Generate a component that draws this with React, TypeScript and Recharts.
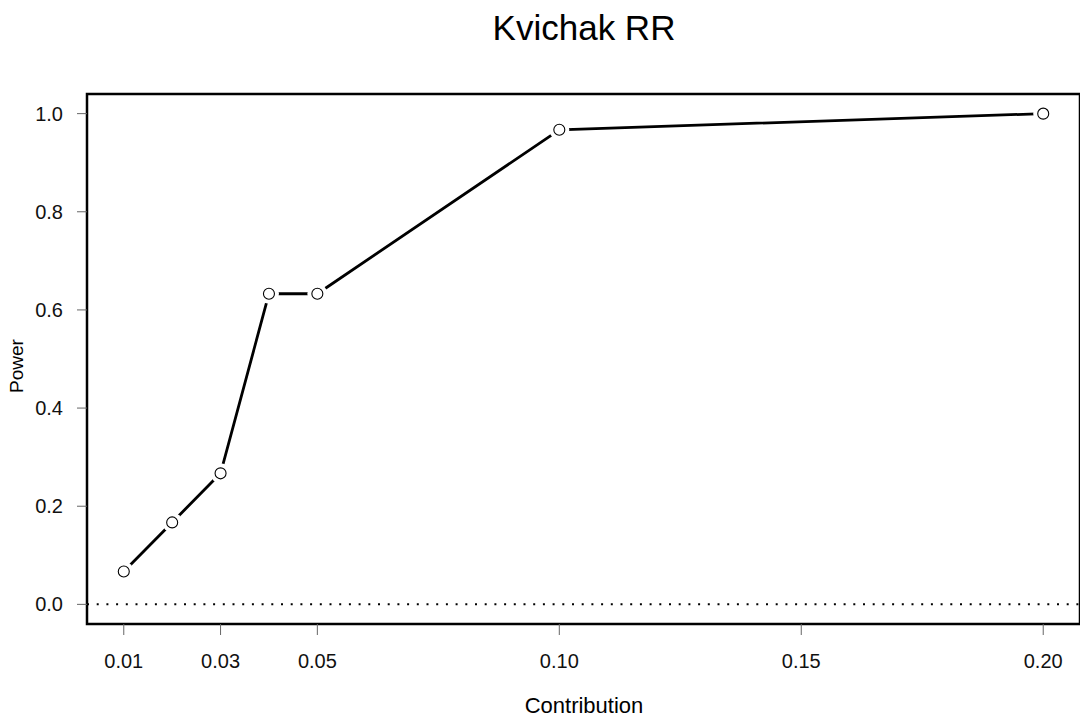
import React from 'react';
import { LineChart, Line, XAxis, YAxis, ReferenceLine, ReferenceArea } from 'recharts';

const contribution = [0.01, 0.02, 0.03, 0.04, 0.05, 0.1, 0.2];
const power = [0.067, 0.167, 0.267, 0.633, 0.633, 0.967, 1.0];
const xTicks = [0.01, 0.03, 0.05, 0.1, 0.15, 0.2];
const yTicks = [0, 0.2, 0.4, 0.6, 0.8, 1.0];

const xDomain: [number, number] = [0.0024, 0.2076];
const yDomain: [number, number] = [-0.04, 1.04];

const font = '"Liberation Sans", Arial, sans-serif';

const data = contribution.map((c, i) => ({ contribution: c, power: power[i] }));

// open circle with a white halo so the line stops short of each point
const OpenDot = (props: any) => {
  const { cx, cy, index } = props;
  if (cx == null || cy == null) return null;
  return (
    <g key={`dot-${index}`}>
      <circle cx={cx} cy={cy} r={10} fill="#fff" stroke="none" />
      <circle cx={cx} cy={cy} r={5.5} fill="#fff" stroke="#000" strokeWidth={1.1} />
    </g>
  );
};

export default function App() {
  return (
    <div
      style={{
        position: 'absolute',
        left: 0,
        top: 0,
        width: 1080,
        height: 719,
        overflow: 'hidden',
        background: '#fff',
        fontFamily: font,
      }}
    >
      <LineChart
        width={1100}
        height={719}
        data={data}
        margin={{ top: 94, right: 20, bottom: 35, left: 0 }}
      >
        <XAxis
          dataKey="contribution"
          type="number"
          domain={xDomain}
          allowDataOverflow
          ticks={xTicks}
          tickFormatter={(v: number) => v.toFixed(2)}
          axisLine={false}
          tickSize={11}
          tickMargin={19}
          tickLine={{ stroke: '#666', strokeWidth: 1 }}
          tick={{ fill: '#111', fontSize: 20, fontFamily: font }}
          height={60}
          interval={0}
        />
        <YAxis
          type="number"
          domain={yDomain}
          allowDataOverflow
          ticks={yTicks}
          tickFormatter={(v: number) => v.toFixed(1)}
          axisLine={false}
          tickSize={10}
          tickMargin={14}
          tickLine={{ stroke: '#666', strokeWidth: 1 }}
          tick={{ fill: '#111', fontSize: 20, fontFamily: font }}
          width={87}
          interval={0}
        />
        <ReferenceLine
          y={0}
          stroke="#000"
          strokeWidth={2}
          strokeDasharray="2 7.7"
          ifOverflow="visible"
        />
        <Line
          dataKey="power"
          type="linear"
          stroke="#000"
          strokeWidth={2.8}
          dot={<OpenDot />}
          activeDot={false}
          isAnimationActive={false}
        />
        <ReferenceArea
          x1={xDomain[0]}
          x2={xDomain[1]}
          y1={yDomain[0]}
          y2={yDomain[1]}
          fill="none"
          fillOpacity={0}
          stroke="#000"
          strokeWidth={2.5}
          ifOverflow="visible"
        />
      </LineChart>
      <svg
        width={1080}
        height={719}
        style={{ position: 'absolute', left: 0, top: 0, pointerEvents: 'none' }}
      >
        <text x={584} y={40} textAnchor="middle" fontSize={35} fontFamily={font} fill="#000">
          Kvichak RR
        </text>
        <text x={584} y={713} textAnchor="middle" fontSize={22} fontFamily={font} fill="#000">
          Contribution
        </text>
        <text
          x={23}
          y={366}
          textAnchor="middle"
          fontSize={19}
          fontFamily={font}
          fill="#000"
          transform="rotate(-90 23 366)"
        >
          Power
        </text>
      </svg>
    </div>
  );
}
